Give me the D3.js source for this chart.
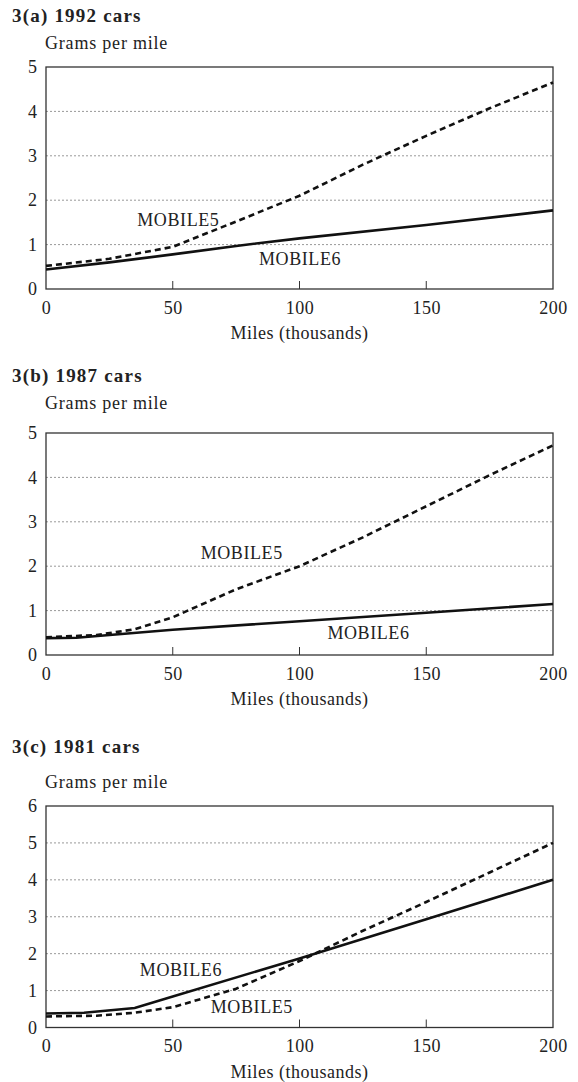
<html>
<head>
<script src="https://d3js.org/d3.v7.min.js"></script>
<style>
  body { margin: 0; background: #fff; }
  text { font-family: "Liberation Serif", "Times New Roman", serif; fill: #222; }
</style>
</head>
<body>
<div id="chart"></div>
<script>
// panel titles and axis text
const panelTitles = ["3(a) 1992 cars", "3(b) 1987 cars", "3(c) 1981 cars"];
const yMax = [5, 5, 6];
const xTicks = [0, 50, 100, 150, 200];
const xTickMarks = [50, 100, 150];

// 1992 cars
const a_m6_x = [0, 25, 50, 75, 100, 150, 200];
const a_m6_y = [0.44, 0.6, 0.78, 0.97, 1.14, 1.44, 1.77];
const a_m5_x = [0, 25, 50, 75, 100, 125, 150, 175, 200];
const a_m5_y = [0.52, 0.68, 0.95, 1.52, 2.1, 2.8, 3.45, 4.07, 4.65];

// 1987 cars
const b_m6_x = [0, 12, 50, 100, 150, 200];
const b_m6_y = [0.38, 0.39, 0.57, 0.76, 0.95, 1.15];
const b_m5_x = [0, 20, 35, 50, 75, 100, 125, 150, 175, 200];
const b_m5_y = [0.4, 0.45, 0.58, 0.85, 1.48, 2.0, 2.65, 3.35, 4.05, 4.72];

// 1981 cars
const c_m6_x = [0, 15, 35, 50, 100, 150, 200];
const c_m6_y = [0.38, 0.4, 0.53, 0.84, 1.87, 2.93, 4.0];
const c_m5_x = [0, 20, 35, 50, 75, 100, 125, 150, 175, 200];
const c_m5_y = [0.3, 0.32, 0.4, 0.55, 1.05, 1.8, 2.62, 3.4, 4.2, 5.0];

// label positions (data coords): [x, y] for MOBILE5, MOBILE6
const labelM5 = [[36, 1.43], [61, 2.16], [65, 0.38]];
const labelM6 = [[84, 0.54], [111, 0.35], [37, 1.4]];

const series = [
  { m6: [a_m6_x, a_m6_y], m5: [a_m5_x, a_m5_y] },
  { m6: [b_m6_x, b_m6_y], m5: [b_m5_x, b_m5_y] },
  { m6: [c_m6_x, c_m6_y], m5: [c_m5_x, c_m5_y] }
];

// layout per panel (page pixels)
const layout = [
  { top: 67, bottom: 289, titleY: 22, gramsY: 49 },
  { top: 433, bottom: 655, titleY: 382, gramsY: 409 },
  { top: 806, bottom: 1027.5, titleY: 753, gramsY: 788 }
];
const left = 46, right = 553;

const svg = d3.select("#chart").append("svg")
  .attr("width", 578)
  .attr("height", 1082);

const x = d3.scaleLinear().domain([0, 200]).range([left, right]);

const line = d3.line()
  .x(d => x(d[0]))
  .y(d => d[2](d[1]));

layout.forEach((L, i) => {
  const y = d3.scaleLinear().domain([0, yMax[i]]).range([L.bottom, L.top]);
  const g = svg.append("g");

  g.append("text")
    .attr("x", 12).attr("y", L.titleY)
    .style("font-size", "19px").style("font-weight", "bold")
    .style("letter-spacing", "1.2px")
    .text(panelTitles[i]);

  g.append("text")
    .attr("x", left - 1).attr("y", L.gramsY)
    .style("font-size", "18px")
    .style("letter-spacing", "0.8px")
    .text("Grams per mile");

  // dotted grid
  g.selectAll(".grid")
    .data(d3.range(1, yMax[i]))
    .enter().append("line")
    .attr("x1", left).attr("x2", right)
    .attr("y1", d => y(d)).attr("y2", d => y(d))
    .attr("stroke", "#999").attr("stroke-width", 1)
    .attr("stroke-dasharray", "2,2");

  // y axis labels (no ticks)
  const ya = g.append("g")
    .attr("transform", `translate(${left},0)`)
    .call(d3.axisLeft(y).tickValues(d3.range(0, yMax[i] + 1)).tickSize(0).tickPadding(9).tickFormat(d3.format("d")));
  ya.select(".domain").remove();
  ya.selectAll("text").style("font-size", "18px").attr("font-family", null);

  // x axis labels
  const xa = g.append("g")
    .attr("transform", `translate(0,${L.bottom})`)
    .call(d3.axisBottom(x).tickValues(xTicks).tickSize(0).tickPadding(12).tickFormat(d3.format("d")));
  xa.select(".domain").remove();
  xa.selectAll("text").style("font-size", "18px").style("letter-spacing", "0.5px").attr("font-family", null);

  // inside tick marks on bottom
  g.selectAll(".tm")
    .data(xTickMarks)
    .enter().append("line")
    .attr("x1", d => x(d)).attr("x2", d => x(d))
    .attr("y1", L.bottom).attr("y2", L.bottom - 8)
    .attr("stroke", "#333").attr("stroke-width", 1);

  // frame
  g.append("rect")
    .attr("x", left).attr("y", L.top)
    .attr("width", right - left).attr("height", L.bottom - L.top)
    .attr("fill", "none").attr("stroke", "#333").attr("stroke-width", 1.3);

  g.append("text")
    .attr("x", (left + right) / 2).attr("y", L.bottom + 50)
    .attr("text-anchor", "middle")
    .style("font-size", "18px")
    .style("letter-spacing", "0.5px")
    .text("Miles (thousands)");

  const s = series[i];
  const m6 = s.m6[0].map((v, k) => [v, s.m6[1][k], y]);
  const m5 = s.m5[0].map((v, k) => [v, s.m5[1][k], y]);

  g.append("path")
    .attr("d", line(m6))
    .attr("fill", "none").attr("stroke", "#111").attr("stroke-width", 2.6);

  g.append("path")
    .attr("d", line(m5))
    .attr("fill", "none").attr("stroke", "#111").attr("stroke-width", 2.6)
    .attr("stroke-dasharray", "6,4");

  g.append("text")
    .attr("x", x(labelM5[i][0])).attr("y", y(labelM5[i][1]))
    .style("font-size", "18px").style("letter-spacing", "0.6px")
    .text("MOBILE5");
  g.append("text")
    .attr("x", x(labelM6[i][0])).attr("y", y(labelM6[i][1]))
    .style("font-size", "18px").style("letter-spacing", "0.6px")
    .text("MOBILE6");
});
</script>
</body>
</html>
